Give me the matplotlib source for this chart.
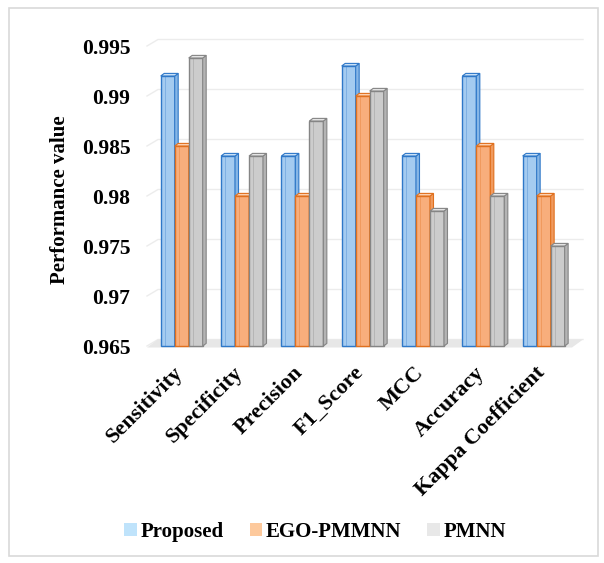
import matplotlib
matplotlib.use("Agg")
import matplotlib.pyplot as plt
from matplotlib.patches import Polygon, Rectangle, Patch
from matplotlib.lines import Line2D
from matplotlib.transforms import ScaledTranslation
import numpy as np

categories = ["Sensitivity", "Specificity", "Precision", "F1_Score", "MCC",
              "Accuracy", "Kappa Coefficient"]
series_names = ["Proposed", "EGO-PMMNN", "PMNN"]
proposed = [0.992, 0.984, 0.984, 0.993, 0.984, 0.992, 0.984]
ego_pmmnn = [0.985, 0.980, 0.980, 0.990, 0.980, 0.985, 0.980]
pmnn = [0.9938, 0.984, 0.9875, 0.9905, 0.9785, 0.980, 0.975]
yticks = [0.965, 0.97, 0.975, 0.98, 0.985, 0.99, 0.995]
ytick_labels = ["0.965", "0.97", "0.975", "0.98", "0.985", "0.99", "0.995"]

series = [proposed, ego_pmmnn, pmnn]
front_colors = ["#a4cbf0", "#f8ae7c", "#cccccc"]
edge_colors = ["#2f78c8", "#e0701e", "#858585"]
top_colors = ["#c9e1f7", "#fcd0b0", "#e4e4e4"]
side_colors = ["#86b6e6", "#f09a5e", "#b4b4b4"]
legend_colors = ["#bfe3fb", "#fdc99c", "#e8e8e8"]

FONT = "Liberation Serif"
W, H = 604, 563
fig = plt.figure(figsize=(W / 100, H / 100), dpi=100)
ax = fig.add_axes([147 / W, 1 - 346 / H, 425 / W, 300 / H])
base = yticks[0]
ax.set_xlim(-0.575, 6.47)
ax.set_ylim(base, yticks[-1])

# pixel -> data conversion
ppx = ax.bbox.width / (ax.get_xlim()[1] - ax.get_xlim()[0])
ppy = ax.bbox.height / (ax.get_ylim()[1] - ax.get_ylim()[0])

# back wall / floor depth
gdx, gdy = 11 / ppx, 6.5 / ppy
# bar depth
bdx, bdy = 3.5 / ppx, 2.6 / ppy

xl, xr = ax.get_xlim()
# floor
ax.add_patch(Polygon([(xl, base - 1.5 / ppy), (xr, base - 1.5 / ppy),
                      (xr + gdx, base + gdy), (xl + gdx, base + gdy)],
                     closed=True, facecolor="#e7e7e7", edgecolor="none",
                     zorder=0.5, clip_on=False))
# gridlines on back wall
for v in yticks:
    ax.add_line(Line2D([xl, xl + gdx, xr + gdx], [v, v + gdy, v + gdy],
                       color="#ececec", lw=1.0, zorder=0.4, clip_on=False))

w = 0.232
x = np.arange(len(categories))
for s, vals in enumerate(series):
    for i, v in enumerate(vals):
        x0 = x[i] - 1.5 * w + s * w
        x1 = x0 + w
        ax.bar(x0, v - base, bottom=base, width=w, align="edge",
               color=front_colors[s], edgecolor=edge_colors[s], lw=1.0,
               zorder=2 + s, clip_on=False)
        # inner highlight line
        ax.add_line(Line2D([x0 + w * 0.28, x0 + w * 0.28], [base, v],
                           color=edge_colors[s], lw=0.5, alpha=0.45,
                           zorder=2 + s, clip_on=False))
        ax.add_patch(Polygon([(x1, base), (x1, v), (x1 + bdx, v + bdy),
                              (x1 + bdx, base + bdy)], closed=True,
                             facecolor=side_colors[s], edgecolor=edge_colors[s],
                             lw=0.8, zorder=2 + s, clip_on=False))
        ax.add_patch(Polygon([(x0, v), (x1, v), (x1 + bdx, v + bdy),
                              (x0 + bdx, v + bdy)], closed=True,
                             facecolor=top_colors[s], edgecolor=edge_colors[s],
                             lw=0.8, zorder=2 + s, clip_on=False))

for sp in ax.spines.values():
    sp.set_visible(False)
ax.set_facecolor("none")
ax.set_yticks(yticks)
ax.set_yticklabels(ytick_labels, fontfamily=FONT, fontweight="bold", fontsize=15.5)
ax.tick_params(axis="y", length=0, pad=12)
ax.set_xticks(x)
ax.set_xticklabels(categories, fontfamily=FONT, fontweight="bold", fontsize=16,
                   rotation=45, ha="right", va="top", rotation_mode="anchor")
ax.tick_params(axis="x", length=0, pad=12)
shift = ScaledTranslation(-9 / 100, 0, fig.dpi_scale_trans)
for lab in ax.get_xticklabels():
    lab.set_transform(lab.get_transform() + shift)

fig.text(60 / W, 1 - 200 / H, "Performance value", rotation=90, ha="center",
         va="center", fontfamily=FONT, fontweight="bold", fontsize=15)

handles = [Patch(facecolor=c, edgecolor="none") for c in legend_colors]
fig.legend(handles, series_names, loc="center", bbox_to_anchor=(315 / W, 1 - 532 / H),
           ncol=3, frameon=False, handlelength=0.62, handleheight=0.62,
           handletextpad=0.15, columnspacing=1.25,
           prop={"family": FONT, "weight": "bold", "size": 15})

fig.add_artist(Rectangle((9 / W, 1 - 556 / H), 589 / W, 548 / H,
                         transform=fig.transFigure, facecolor="none",
                         edgecolor="#d9d9d9", lw=1.2))

fig.savefig("out.png", dpi=100)
